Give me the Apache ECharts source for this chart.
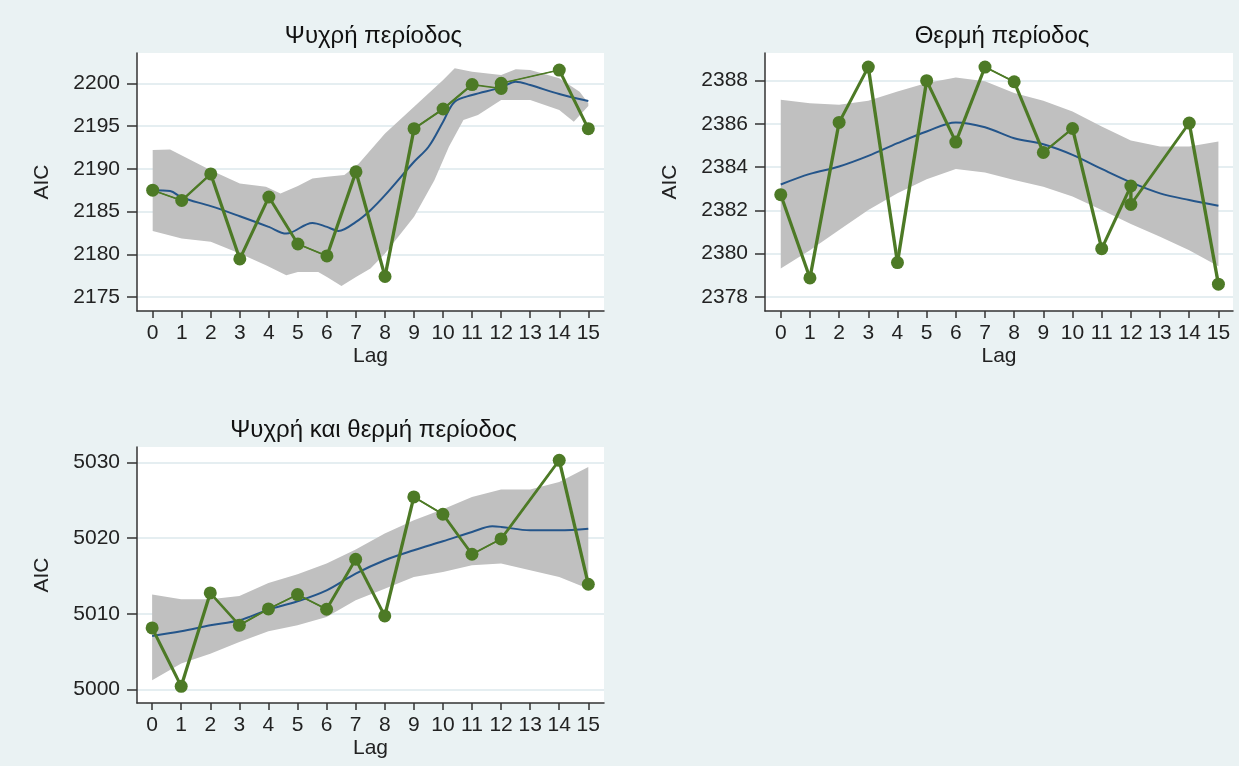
<!DOCTYPE html>
<html><head><meta charset="utf-8">
<script src="https://cdn.jsdelivr.net/npm/echarts@6/dist/echarts.min.js"></script>
<style>html,body{margin:0;padding:0;background:#eaf2f3}#c{width:1239px;height:766px}</style>
</head><body><div id="c"></div><script>
const lagTicks = [0,1,2,3,4,5,6,7,8,9,10,11,12,13,14,15];

// Panel 1: Ψυχρή περίοδος
const coldTicks = [2175,2180,2185,2190,2195,2200];
const coldLags = [0,1,2,3,4,5,6,7,8,9,10,11,12,12,14,15];
const coldAIC = [2187.5,2186.3,2189.4,2179.45,2186.7,2181.2,2179.8,2189.65,2177.4,2194.7,2197.0,2199.85,2199.4,2200.0,2201.55,2194.7];
const coldFitX = [0,0.6,1,2,3,4,4.6,5.5,6,6.4,7,7.5,8,9,9.5,10,10.4,11,12,12.5,13,14,15];
const coldFit = [2187.5,2187.4,2186.64,2185.63,2184.45,2183.2,2182.42,2183.67,2183.2,2182.73,2183.79,2185.16,2186.91,2190.82,2192.58,2195.51,2197.85,2198.63,2199.53,2200.2,2199.8,2198.75,2197.93];
const coldUpX = [0,0.6,2,3,3.9,4.4,5,5.5,6,6.6,7.1,8,9,10,10.4,11,12,12.5,13,14,14.7,15];
const coldUp = [2192.19,2192.27,2189.84,2188.28,2187.89,2187.11,2188.0,2188.87,2189.06,2189.26,2190.63,2194.14,2197.27,2200.39,2201.76,2201.37,2200.98,2201.64,2201.56,2200.59,2199.02,2197.66];
const coldLoX = [0,1,2,3,3.9,4.6,5,5.7,6,6.5,7,7.5,8,9,9.7,10.2,10.7,11.2,12,13,14,14.5,15];
const coldLo = [2182.73,2181.84,2181.45,2180.08,2178.71,2177.54,2177.93,2177.93,2177.34,2176.29,2177.34,2178.32,2180.08,2184.38,2188.67,2192.58,2195.70,2196.29,2198.05,2198.05,2196.88,2195.51,2197.34];

// Panel 2: Θερμή περίοδος
const warmTicks = [2378,2380,2382,2384,2386,2388];
const warmLags = [0,1,2,3,4,5,6,7,8,9,10,11,12,12,14,15];
const warmAIC = [2382.73,2378.88,2386.07,2388.63,2379.59,2388.0,2385.16,2388.63,2387.95,2384.68,2385.79,2380.23,2383.13,2382.28,2386.04,2378.59];
const warmFitX = [0,1,2,3,4,5,6,7,8,9,10,11,12,13,14,15];
const warmFit = [2383.2,2383.69,2384.03,2384.52,2385.11,2385.65,2386.07,2385.85,2385.34,2385.06,2384.57,2383.92,2383.30,2382.79,2382.48,2382.22];
const warmUpX = [0,1,2,3,4,5,6,7,8,9,10,11,12,13,14,15];
const warmUp = [2387.12,2386.96,2386.89,2387.07,2387.5,2387.89,2388.15,2387.97,2387.43,2387.07,2386.58,2385.88,2385.23,2384.96,2384.96,2385.19];
const warmLoX = [0,1,2,3,4,5,6,7,8,9,10,11,12,13,14,15];
const warmLo = [2379.31,2380.16,2381.09,2382.02,2382.79,2383.44,2383.92,2383.75,2383.41,2383.10,2382.64,2382.02,2381.37,2380.78,2380.16,2379.42];

// Panel 3: Ψυχρή και θερμή περίοδος
const allTicks = [5000,5010,5020,5030];
const allLags = [0,1,2,3,4,5,6,7,8,9,10,11,12,14,15];
const allAIC = [5008.12,5000.4,5012.75,5008.47,5010.64,5012.53,5010.59,5017.21,5009.71,5025.46,5023.16,5017.87,5019.9,5030.3,5013.9];
const allFitX = [0,1,2,3,4,5,6,7,8,9,10,11,11.7,12,13,14,15];
const allFit = [5007.06,5007.68,5008.47,5009.13,5010.55,5011.65,5013.1,5015.31,5017.08,5018.4,5019.59,5020.82,5021.57,5021.49,5021.05,5021.05,5021.26];
const allUpX = [0,1,2,3,4,5,6,7,8,9,10,11,12,13,14,15];
const allUp = [5012.53,5011.91,5011.91,5012.36,5014.08,5015.22,5016.63,5018.49,5020.6,5022.37,5023.82,5025.46,5026.43,5026.43,5027.44,5029.43];
const allLoX = [0,1,2,3,4,5,6,7,8,9,10,11,12,13,14,15];
const allLo = [5001.2,5003.4,5004.72,5006.27,5007.68,5008.47,5009.57,5011.78,5013.32,5014.87,5015.53,5016.41,5016.63,5015.75,5014.87,5013.32];

const titles = ['Ψυχρή περίοδος','Θερμή περίοδος','Ψυχρή και θερμή περίοδος'];

const FONT = '"Liberation Sans", Arial, sans-serif';
const GREEN = '#4d7a26', BLUE = '#24558a', BAND = '#c0c0c0', AXIS = '#333', GRID = '#dde9ed', TEXT = '#222';

const panels = [
  {grid:{left:137, top:53, width:467, height:258}, xr:[-0.54,15.54], yr:[2173.36,2203.55], ticks:coldTicks,
   lags:coldLags, aic:coldAIC, fx:coldFitX, fy:coldFit, ux:coldUpX, uy:coldUp, lx:coldLoX, ly:coldLo},
  {grid:{left:765, top:53, width:468, height:258}, xr:[-0.54,15.5], yr:[2377.35,2389.28], ticks:warmTicks,
   lags:warmLags, aic:warmAIC, fx:warmFitX, fy:warmFit, ux:warmUpX, uy:warmUp, lx:warmLoX, ly:warmLo},
  {grid:{left:137, top:447, width:467, height:256}, xr:[-0.52,15.54], yr:[4998.19,5032.06], ticks:allTicks,
   lags:allLags, aic:allAIC, fx:allFitX, fy:allFit, ux:allUpX, uy:allUp, lx:allLoX, ly:allLo}
];

const grid = [], xAxis = [], yAxis = [], series = [], graphic = [];
panels.forEach((p, i) => {
  grid.push(Object.assign({show:true, backgroundColor:'#ffffff', borderWidth:0, containLabel:false, outerBoundsMode:'none'}, p.grid));
  xAxis.push({
    type:'value', gridIndex:i, min:p.xr[0], max:p.xr[1],
    axisLine:{show:true, onZero:false, lineStyle:{color:AXIS, width:1.5}},
    axisTick:{show:true, customValues:lagTicks, length:7, lineStyle:{color:AXIS, width:1.5}},
    axisLabel:{customValues:lagTicks, formatter:v=>String(v), fontSize:21, color:TEXT, margin:12, fontFamily:FONT},
    splitLine:{show:false},
    name:'Lag', nameLocation:'middle', nameGap:35, nameTextStyle:{fontSize:21, color:TEXT, fontFamily:FONT}
  });
  yAxis.push({
    type:'value', gridIndex:i, min:p.yr[0], max:p.yr[1],
    axisLine:{show:true, onZero:false, lineStyle:{color:AXIS, width:1.5}},
    axisTick:{show:true, customValues:p.ticks, length:10, lineStyle:{color:AXIS, width:1.5}},
    axisLabel:{customValues:p.ticks, formatter:v=>String(v), fontSize:21, color:TEXT, margin:17, fontFamily:FONT},
    splitLine:{show:true, lineStyle:{color:GRID, width:1.5}},
    name:'AIC', nameLocation:'middle', nameGap:84, nameTextStyle:{fontSize:21, color:TEXT, fontFamily:FONT}
  });
  // confidence band
  series.push({
    type:'custom', xAxisIndex:i, yAxisIndex:i, silent:true, z:1, clip:true,
    data:[[p.ux[0], p.uy[0]]],
    renderItem:(params, api) => {
      const pts = [];
      p.ux.forEach((x,k) => pts.push(api.coord([x, p.uy[k]])));
      for (let k = p.lx.length-1; k >= 0; k--) pts.push(api.coord([p.lx[k], p.ly[k]]));
      return {type:'polygon', shape:{points:pts}, style:{fill:BAND}};
    }
  });
  // smoothed fit
  series.push({
    type:'line', xAxisIndex:i, yAxisIndex:i, z:2, smooth:0.35, showSymbol:false, silent:true,
    data:p.fx.map((x,k)=>[x, p.fy[k]]), lineStyle:{color:BLUE, width:2}
  });
  // connected AIC line drawn with a horizontally widened pen
  series.push({
    type:'custom', xAxisIndex:i, yAxisIndex:i, silent:true, z:3, clip:true,
    data:p.lags.slice(0,-1).map((x,k)=>[x, p.aic[k]]),
    renderItem:(params, api) => {
      const k = params.dataIndex;
      const a = api.coord([p.lags[k], p.aic[k]]);
      const b = api.coord([p.lags[k+1], p.aic[k+1]]);
      const h = 1.7;
      return {type:'group', children:[
        {type:'polygon', shape:{points:[[a[0]-h,a[1]],[a[0]+h,a[1]],[b[0]+h,b[1]],[b[0]-h,b[1]]]}, style:{fill:GREEN}},
        {type:'line', shape:{x1:a[0], y1:a[1], x2:b[0], y2:b[1]}, style:{stroke:GREEN, lineWidth:1.6}}
      ]};
    }
  });
  series.push({
    type:'scatter', xAxisIndex:i, yAxisIndex:i, z:4, silent:true,
    symbol:'circle', symbolSize:13, itemStyle:{color:GREEN, opacity:1},
    data:p.lags.map((x,k)=>[x, p.aic[k]])
  });
  graphic.push({type:'text', x:p.grid.left + p.grid.width/2 + 3, y:p.grid.top - 29,
    style:{text:titles[i], fontSize:24, fill:'#111', fontFamily:FONT, textAlign:'center'}});
});

const chart = echarts.init(document.getElementById('c'));
chart.setOption({backgroundColor:'#eaf2f3', animation:false, grid, xAxis, yAxis, series, graphic});
</script></body></html>
